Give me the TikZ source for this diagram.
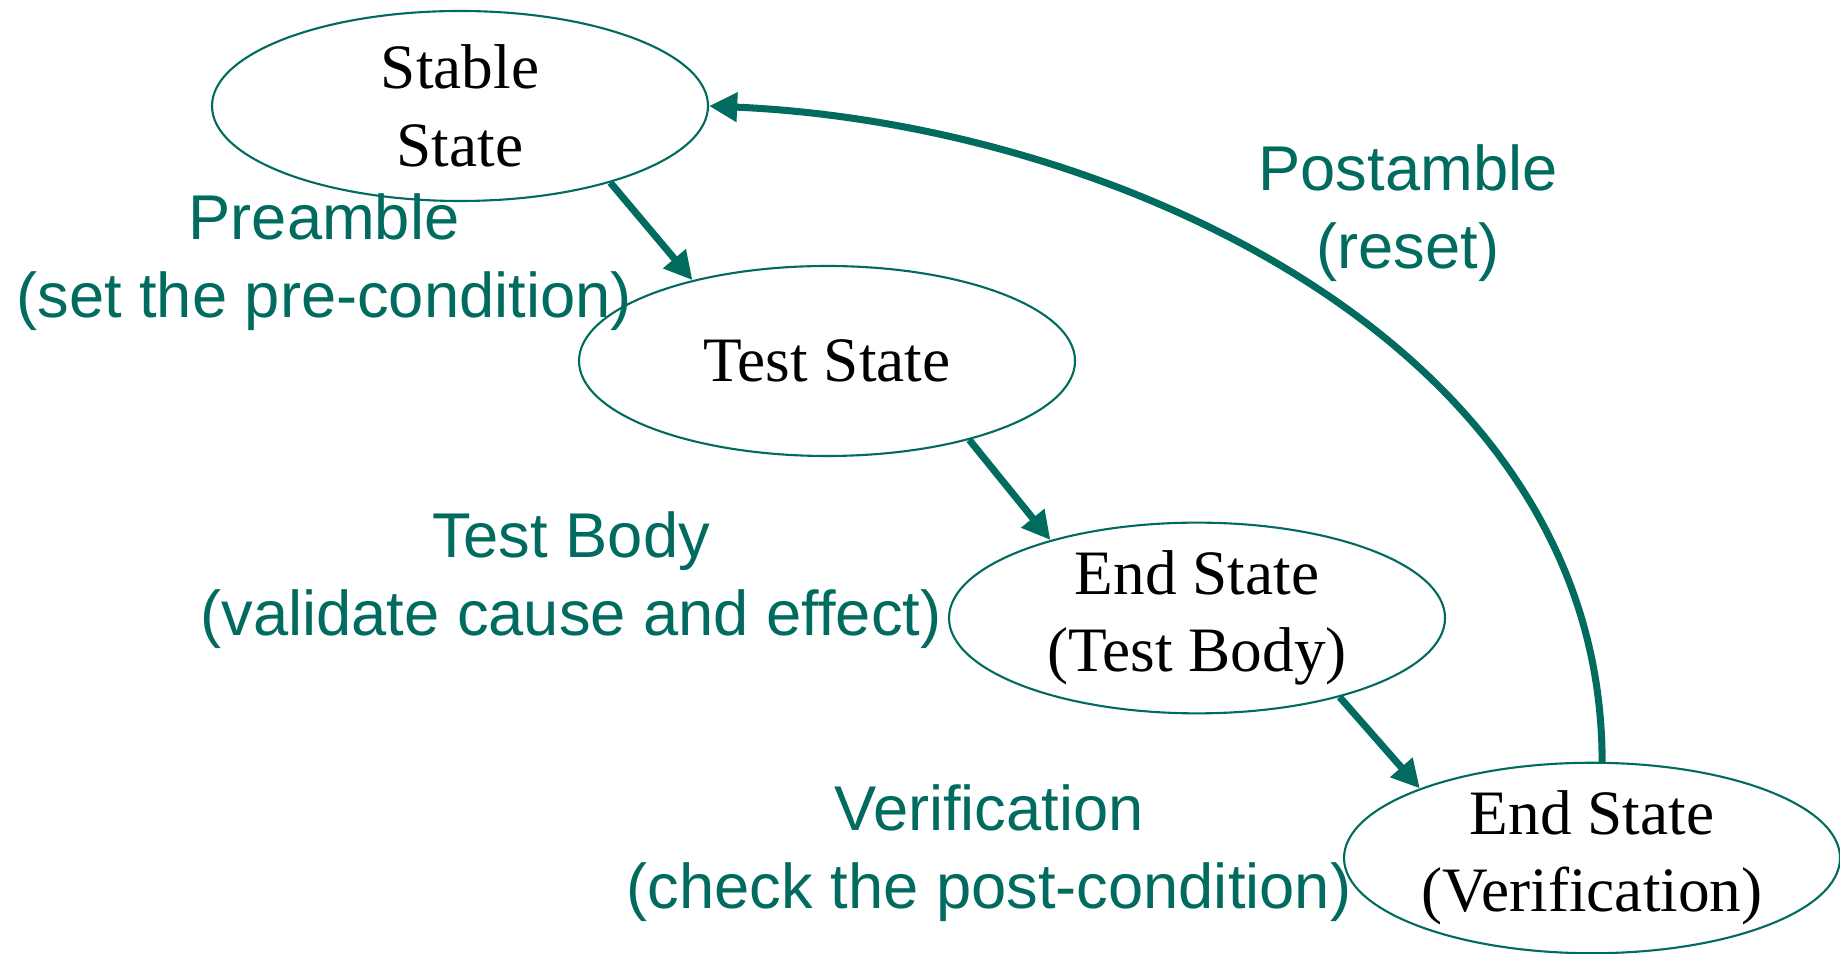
\documentclass[tikz,border=0pt]{standalone}
\usepackage{fontspec}
\setmainfont{Liberation Serif}
\newfontfamily\labelfont{Liberation Sans}
\usetikzlibrary{shapes.geometric,arrows.meta}
\definecolor{stategreen}{RGB}{0,107,94}

\begin{document}
\begin{tikzpicture}[
  state/.style={ellipse, draw=stategreen, line width=0.6pt,
    minimum width=4.96cm, minimum height=1.9cm, inner sep=0pt,
    align=center, font=\fontsize{18}{22}\selectfont},
  phase/.style={text=stategreen, align=center,
    font=\labelfont\fontsize{18}{22}\selectfont},
  flow/.style={draw=stategreen, line width=2pt,
    -{Triangle[length=8pt,width=8pt]}}
]
  \useasboundingbox (0,0) rectangle (18.4,9.53);
  % các trạng thái
  \node[state] (stable) at (4.60,8.47) {Stable\\State};
  \node[state] (test)   at (8.27,5.92) {Test State};
  \node[state] (endbody) at (11.97,3.35) {End State\\(Test Body)};
  \node[state] (endverif) at (15.92,0.95) {End State\\(Verification)};
  % các nhãn
  \node[phase] (preamble) at (3.24,6.91) {Preamble\\(set the pre-condition)};
  \node[phase] (postamble) at (14.08,7.40) {Postamble\\(reset)};
  \node[phase] (body) at (5.71,3.73) {Test Body\\(validate cause and effect)};
  \node[phase] (verif) at (9.89,1.00) {Verification\\(check the post-condition)};
  % các mũi tên
  \draw[flow] (stable.-27) -- (test.149);
  \draw[flow] (test.-29) -- (endbody.152);
  \draw[flow] (endbody.-29) -- (endverif.158);
  \draw[flow] (endverif.84) .. controls +(0,4.2) and +(4,-0.17) .. (stable.east);
\end{tikzpicture}
\end{document}
